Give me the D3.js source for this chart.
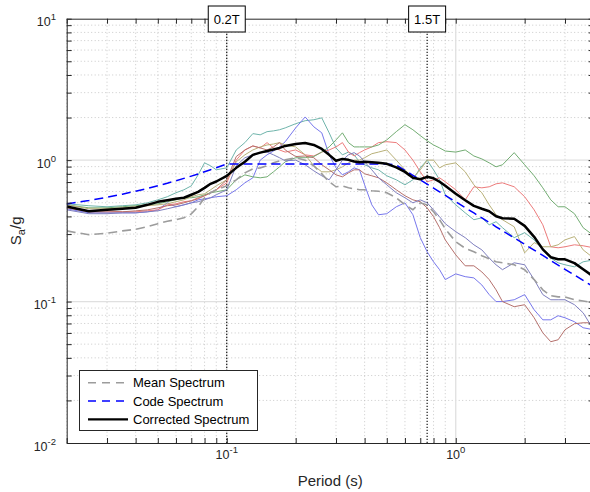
<!DOCTYPE html>
<html><head><meta charset="utf-8">
<script src="https://cdn.jsdelivr.net/npm/d3@7"></script>
<style>body{margin:0;background:#fff;} svg{display:block;font-family:"Liberation Sans",Arial,Helvetica,sans-serif;}</style>
</head><body><svg id="chart" width="590" height="492"></svg>
<script>
// ---------------- DATA ----------------
const periods = [0.02,0.025,0.03,0.035,0.04,0.045,0.05,0.055,0.06,0.065,0.07,0.075,0.08,0.085,0.09,0.1,0.11,0.12,0.13,0.14,0.15,0.16,0.17,0.18,0.2,0.22,0.24,0.26,0.28,0.3,0.32,0.34,0.36,0.38,0.4,0.43,0.46,0.5,0.55,0.6,0.65,0.7,0.75,0.8,0.85,0.9,1.0,1.1,1.2,1.3,1.4,1.5,1.6,1.8,2.0,2.2,2.4,2.6,2.8,3.0,3.3,3.6,4.0];

const recTeal = [0.491,0.476,0.468,0.476,0.483,0.499,0.524,0.551,0.588,0.617,0.658,0.787,0.957,0.912,0.854,0.882,1.18,1.33,1.54,1.51,1.59,1.61,1.64,1.69,1.81,1.90,1.93,1.99,1.56,1.22,1.09,1.14,1.09,0.973,0.927,0.882,0.854,0.775,0.726,0.669,0.726,0.882,1.00,0.854,0.726,0.569,0.483,0.424,0.379,0.391,0.349,0.367,0.333,0.283,0.307,0.273,0.232,0.203,0.188,0.182,0.176,0.191,0.197];
const recBlue = [0.453,0.424,0.424,0.424,0.424,0.431,0.445,0.499,0.468,0.483,0.499,0.524,0.533,0.542,0.551,0.560,0.617,0.691,0.750,1.00,1.09,1.16,1.24,1.35,1.69,2.02,1.72,1.56,1.09,0.882,0.787,0.827,0.882,0.854,0.669,0.483,0.411,0.418,0.468,0.499,0.411,0.283,0.225,0.191,0.168,0.143,0.157,0.150,0.147,0.131,0.112,0.100,0.100,0.103,0.112,0.0875,0.0743,0.0743,0.0794,0.0768,0.0720,0.0653,0.0632];
const recRed = [0.468,0.438,0.438,0.431,0.431,0.438,0.445,0.483,0.491,0.508,0.516,0.542,0.560,0.588,0.617,0.691,1.00,1.18,1.26,1.22,1.33,1.22,1.18,1.14,1.18,1.09,1.07,1.14,1.18,1.24,1.33,1.14,1.07,1.13,1.18,1.24,1.33,1.35,1.33,1.18,1.00,0.827,0.703,0.726,0.750,0.703,0.617,0.524,0.648,0.637,0.648,0.680,0.691,0.648,0.551,0.445,0.349,0.244,0.240,0.244,0.252,0.248,0.240];
const recGreen = [0.483,0.460,0.460,0.468,0.476,0.483,0.491,0.508,0.524,0.542,0.542,0.551,0.569,0.588,0.597,0.617,0.726,0.787,0.762,0.750,0.762,0.827,0.897,0.973,1.04,1.04,1.06,1.14,1.24,1.39,1.56,1.33,1.24,1.24,1.24,1.24,1.28,1.39,1.59,1.78,1.64,1.49,1.37,1.28,1.22,1.16,1.14,1.18,1.07,1.02,0.957,0.897,0.927,1.13,0.927,0.775,0.637,0.524,0.468,0.468,0.418,0.333,0.293];
const recOlive = [0.483,0.453,0.453,0.460,0.468,0.476,0.483,0.491,0.508,0.524,0.551,0.569,0.578,0.617,0.658,0.726,0.973,1.09,1.18,1.24,1.28,1.30,1.33,1.28,1.24,1.09,0.912,0.827,0.827,0.854,0.897,0.957,1.00,1.00,1.04,1.11,1.14,1.18,1.00,0.854,0.750,0.854,1.00,1.00,0.882,0.927,0.957,0.827,0.669,0.588,0.483,0.411,0.379,0.338,0.221,0.261,0.244,0.244,0.252,0.273,0.288,0.232,0.203];
const recBrown = [0.460,0.431,0.431,0.431,0.438,0.445,0.460,0.476,0.483,0.499,0.516,0.533,0.560,0.588,0.617,0.726,1.06,1.18,1.26,1.22,1.18,1.24,1.33,1.18,1.06,1.07,1.04,0.927,0.854,0.787,0.762,0.813,0.854,0.854,0.800,0.775,0.750,0.691,0.617,0.560,0.524,0.508,0.460,0.398,0.333,0.273,0.214,0.179,0.179,0.162,0.143,0.121,0.100,0.092,0.095,0.0768,0.0601,0.0520,0.0537,0.0632,0.0697,0.0708,0.0708];
const recSlate = [0.445,0.418,0.418,0.424,0.424,0.431,0.438,0.453,0.468,0.483,0.499,0.508,0.524,0.542,0.569,0.617,0.912,1.04,1.09,1.13,1.14,1.09,1.04,0.989,1.00,0.927,0.840,0.775,0.726,0.854,1.00,1.09,1.13,1.07,0.973,0.854,0.750,0.669,0.588,0.542,0.499,0.524,0.499,0.445,0.398,0.355,0.312,0.283,0.252,0.232,0.203,0.182,0.168,0.188,0.182,0.143,0.112,0.103,0.103,0.103,0.095,0.0833,0.0632];

const meanSpectrum = [0.316,0.297,0.304,0.316,0.324,0.338,0.355,0.370,0.379,0.391,0.417,0.468,0.542,0.588,0.617,0.658,0.726,0.813,0.868,0.882,0.912,0.957,0.989,1.005,1.04,1.00,0.91,0.80,0.703,0.648,0.658,0.637,0.627,0.617,0.617,0.607,0.602,0.588,0.542,0.483,0.446,0.499,0.483,0.431,0.379,0.327,0.265,0.238,0.225,0.211,0.201,0.191,0.188,0.182,0.168,0.143,0.121,0.110,0.108,0.108,0.103,0.101,0.098];
const codeSpectrum = [0.49,0.518,0.546,0.574,0.603,0.631,0.659,0.687,0.715,0.743,0.771,0.799,0.828,0.856,0.884,0.94,0.94,0.94,0.94,0.94,0.94,0.94,0.94,0.94,0.94,0.94,0.94,0.94,0.94,0.94,0.94,0.94,0.94,0.94,0.94,0.94,0.94,0.94,0.923,0.846,0.781,0.725,0.677,0.635,0.597,0.564,0.508,0.461,0.423,0.390,0.363,0.338,0.317,0.282,0.254,0.231,0.212,0.195,0.181,0.169,0.154,0.141,0.127];
const correctedSpectrum = [0.470,0.435,0.446,0.453,0.460,0.483,0.507,0.520,0.533,0.542,0.569,0.597,0.637,0.680,0.706,0.774,0.882,0.973,1.09,1.13,1.16,1.19,1.22,1.26,1.30,1.32,1.28,1.20,1.09,0.989,1.02,1.005,0.977,0.965,0.973,0.965,0.957,0.942,0.889,0.826,0.750,0.732,0.762,0.744,0.703,0.658,0.578,0.520,0.475,0.453,0.435,0.401,0.388,0.385,0.343,0.287,0.234,0.206,0.199,0.199,0.187,0.169,0.150];

const records = [recTeal, recBlue, recRed, recGreen, recOlive, recBrown, recSlate];
const recordColors = ["#6fb4ab","#7777ec","#ec7b7b","#72ac72","#b8b078","#b5706c","#7e7ebe"];

const markerPeriods = [0.1, 0.75];
const markerLabels = ["0.2T", "1.5T"];
const legendLabels = ["Mean Spectrum", "Code Spectrum", "Corrected Spectrum"];
const decadeExps = [-2, -1, 0, 1];
const xDecadeExps = [-1, 0];

// ---------------- CHART ----------------
const W = 590, H = 492;
const M = {left: 66.7, right: 593.6, top: 18.7, bottom: 443};
const x = d3.scaleLog().domain([0.02, 4]).range([M.left, M.right]);
const y = d3.scaleLog().domain([0.01, 10]).range([M.bottom, M.top]);
const svg = d3.select("#chart");
svg.append("rect").attr("width", W).attr("height", H).attr("fill", "#fff");

svg.append("defs").append("clipPath").attr("id", "clip")
  .append("rect").attr("x", M.left).attr("y", M.top)
  .attr("width", M.right - M.left).attr("height", M.bottom - M.top);

// tick sets
const xAll = [];
[0.01, 0.1, 1].forEach(d => { for (let k = 1; k <= 9; k++) { const v = +(d * k).toPrecision(3); if (v >= 0.02 && v <= 4) xAll.push(v); } });
const xMajor = [0.1, 1];
const xMinor = xAll.filter(v => !xMajor.includes(v));
const yAll = [];
[0.01, 0.1, 1].forEach(d => { for (let k = 1; k <= 9; k++) yAll.push(+(d * k).toPrecision(3)); });
yAll.push(10);
const yMajor = [0.1, 1];
const yMinor = yAll.filter(v => ![0.01, 0.1, 1, 10].includes(v));

// grid
const grid = svg.append("g");
grid.selectAll(".gxm").data(xMinor).join("line")
  .attr("x1", d => x(d)).attr("x2", d => x(d)).attr("y1", M.top).attr("y2", M.bottom)
  .attr("stroke", "#bdbdbd").attr("stroke-width", 0.8).attr("stroke-dasharray", "1,2.5");
grid.selectAll(".gym").data(yMinor).join("line")
  .attr("y1", d => y(d)).attr("y2", d => y(d)).attr("x1", M.left).attr("x2", M.right)
  .attr("stroke", "#bdbdbd").attr("stroke-width", 0.8).attr("stroke-dasharray", "1,2.5");
grid.selectAll(".gxM").data(xMajor).join("line")
  .attr("x1", d => x(d)).attr("x2", d => x(d)).attr("y1", M.top).attr("y2", M.bottom)
  .attr("stroke", "#e0e0e0").attr("stroke-width", 1.3);
grid.selectAll(".gyM").data(yMajor).join("line")
  .attr("y1", d => y(d)).attr("y2", d => y(d)).attr("x1", M.left).attr("x2", M.right)
  .attr("stroke", "#e0e0e0").attr("stroke-width", 1.3);

// marker vertical lines
svg.selectAll(".mk").data(markerPeriods).join("line")
  .attr("x1", d => x(d)).attr("x2", d => x(d)).attr("y1", M.top).attr("y2", M.bottom)
  .attr("stroke", "#000").attr("stroke-width", 1.1).attr("stroke-dasharray", "1.2,1.8");

// series
const plot = svg.append("g").attr("clip-path", "url(#clip)");
const line = d3.line().x((d, i) => x(periods[i])).y(d => y(d));
records.forEach((r, i) => {
  plot.append("path").attr("d", line(r)).attr("fill", "none")
    .attr("stroke", recordColors[i]).attr("stroke-width", 1).attr("stroke-linejoin", "round");
});
plot.append("path").attr("d", line(meanSpectrum)).attr("fill", "none")
  .attr("stroke", "#9c9c9c").attr("stroke-width", 1.6).attr("stroke-dasharray", "9,5");
plot.append("path").attr("d", line(codeSpectrum)).attr("fill", "none")
  .attr("stroke", "#0000ff").attr("stroke-width", 1.5).attr("stroke-dasharray", "9,5");
plot.append("path").attr("d", line(correctedSpectrum)).attr("fill", "none")
  .attr("stroke", "#000").attr("stroke-width", 2.5).attr("stroke-linejoin", "round");

// axes
const axCol = "#262626";
function styleAxis(g) {
  g.selectAll("path.domain").attr("stroke", axCol).attr("stroke-width", 1);
  g.selectAll(".tick line").attr("stroke", axCol);
  g.selectAll(".tick text").remove();
}
svg.append("g").attr("transform", `translate(0,${M.bottom})`)
  .call(d3.axisBottom(x).tickValues(xAll).tickSizeInner(-5).tickSizeOuter(0).tickFormat(""))
  .call(styleAxis);
svg.append("g").attr("transform", `translate(0,${M.top})`)
  .call(d3.axisTop(x).tickValues(xAll).tickSizeInner(-5).tickSizeOuter(0).tickFormat(""))
  .call(styleAxis);
svg.append("g").attr("transform", `translate(${M.left},0)`)
  .call(d3.axisLeft(y).tickValues(yAll).tickSizeInner(-5).tickSizeOuter(0).tickFormat(""))
  .call(styleAxis);
svg.append("g").attr("transform", `translate(${M.right},0)`)
  .call(d3.axisRight(y).tickValues(yAll).tickSizeInner(-5).tickSizeOuter(0).tickFormat(""))
  .call(styleAxis);

// tick labels with superscripts
decadeExps.forEach(e => {
  const t = svg.append("text").attr("x", 56).attr("y", y(Math.pow(10, e)) + 7.5)
    .attr("text-anchor", "end").attr("fill", axCol).attr("font-size", 12.5);
  t.append("tspan").text("10");
  t.append("tspan").attr("dy", -6).attr("font-size", 9.5).text(String(e));
});
xDecadeExps.forEach(e => {
  const t = svg.append("text").attr("x", x(Math.pow(10, e))).attr("y", M.bottom + 15.5)
    .attr("text-anchor", "middle").attr("fill", axCol).attr("font-size", 12.5);
  t.append("tspan").text("10");
  t.append("tspan").attr("dy", -6).attr("font-size", 9.5).text(String(e));
});

// axis titles
svg.append("text").attr("x", (M.left + M.right) / 2).attr("y", 486)
  .attr("text-anchor", "middle").attr("fill", axCol).attr("font-size", 15).text("Period (s)");
const yt = svg.append("text").attr("transform", `translate(21,${(M.top + M.bottom) / 2}) rotate(-90)`)
  .attr("text-anchor", "middle").attr("fill", axCol).attr("font-size", 15);
yt.append("tspan").text("S");
yt.append("tspan").attr("dy", 4).attr("font-size", 11).text("a");
yt.append("tspan").attr("dy", -4).text("/g");

// marker boxes
markerPeriods.forEach((p, i) => {
  const cx = x(p);
  svg.append("rect").attr("x", cx - 18.5).attr("y", 6).attr("width", 37).attr("height", 26)
    .attr("fill", "#fff").attr("stroke", "#000").attr("stroke-width", 1);
  svg.append("text").attr("x", cx).attr("y", 24).attr("text-anchor", "middle")
    .attr("font-size", 13).attr("fill", "#000").text(markerLabels[i]);
});

// legend
const lg = svg.append("g");
lg.append("rect").attr("x", 79.5).attr("y", 370.5).attr("width", 178).attr("height", 60)
  .attr("fill", "#fff").attr("stroke", axCol).attr("stroke-width", 1);
const legStyles = [
  {c: "#9c9c9c", w: 1.6, d: "8,6"},
  {c: "#0000ff", w: 1.5, d: "8,6"},
  {c: "#000", w: 2.2, d: null}
];
legendLabels.forEach((lab, i) => {
  const ly = 382.7 + i * 18.3;
  const l = lg.append("line").attr("x1", 88).attr("x2", 128).attr("y1", ly).attr("y2", ly)
    .attr("stroke", legStyles[i].c).attr("stroke-width", legStyles[i].w);
  if (legStyles[i].d) l.attr("stroke-dasharray", legStyles[i].d);
  lg.append("text").attr("x", 133).attr("y", ly + 4.7).attr("font-size", 13)
    .attr("fill", "#000").text(lab);
});
</script></body></html>
